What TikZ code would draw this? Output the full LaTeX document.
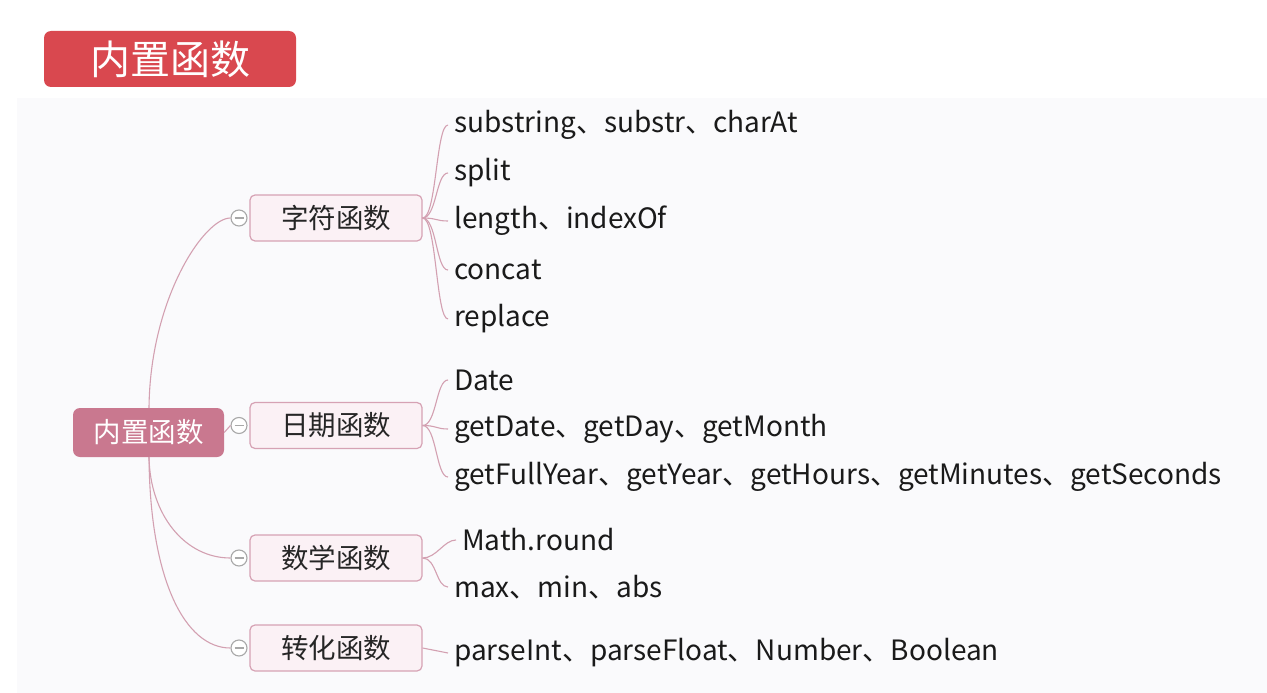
\documentclass[tikz,border=0pt]{standalone}
\usepackage{fontspec}
\setmainfont{Noto Sans CJK SC}
\definecolor{panel}{HTML}{FAFAFC}
\definecolor{titlered}{HTML}{D9484F}
\definecolor{rootfill}{HTML}{C9788F}
\definecolor{branchfill}{HTML}{FBF1F5}
\definecolor{branchdraw}{HTML}{D6A2B4}
\definecolor{linkcol}{HTML}{D3A0B1}
\definecolor{circgray}{HTML}{A8A8A8}
\definecolor{leaftext}{HTML}{1A1A1A}
\tikzset{
  titlebox/.style={fill=titlered, rounded corners=7pt, minimum width=252pt, minimum height=56pt, inner sep=0pt, text=white, font=\fontsize{40}{42}\selectfont},
  rootbox/.style={fill=rootfill, rounded corners=7pt, minimum width=151pt, minimum height=49pt, inner sep=0pt, text=white, font=\fontsize{27.5}{29}\selectfont},
  branchbox/.style={fill=branchfill, draw=branchdraw, line width=1.2pt, rounded corners=5pt, minimum width=172pt, minimum height=46pt, inner sep=0pt, text=black!85, font=\fontsize{27.5}{29}\selectfont},
  leaf/.style={anchor=west, inner sep=0pt, text=leaftext, font=\fontsize{28}{30}\selectfont},
  fold/.style={circle, draw=circgray, fill=white, line width=1.1pt, minimum size=16pt, inner sep=0pt},
  link/.style={draw=linkcol, line width=1.1pt},
}
\begin{document}
\begin{tikzpicture}[x=1pt,y=-1pt]
\useasboundingbox (0,0) rectangle (1267,693);
\fill[white] (0,0) rectangle (1267,693);
\fill[panel] (17,98) rectangle (1267,693);
% title
\node[titlebox] (title) at (170,59) {内置函数};
% root
\node[rootbox] (root) at (148.5,432.5) {内置函数};
% branches
\node[branchbox] (b1) at (336,218) {字符函数};
\node[branchbox] (b2) at (336,425.5) {日期函数};
\node[branchbox] (b3) at (336,558) {数学函数};
\node[branchbox] (b4) at (336,648) {转化函数};
% fold circles
\node[fold] (f1) at (239,218) {};
\node[fold] (f2) at (239,425.5) {};
\node[fold] (f3) at (239,558) {};
\node[fold] (f4) at (239,648) {};
\foreach \f in {f1,f2,f3,f4}{\draw[circgray, line width=1.1pt] ([xshift=-4.5pt]\f.center) -- ([xshift=4.5pt]\f.center);}
% root links
\coordinate (rt) at (149,408);
\coordinate (rb) at (149,457);
\draw[link] (rt) .. controls (150,299) and (204,218) .. (f1.west);
\draw[link] (root.east) -- (f2.west);
\draw[link] (rb) .. controls (150,515) and (185,558) .. (f3.west);
\draw[link] (rb) .. controls (150,580) and (185,648) .. (f4.west);
% leaves
\node[leaf] (l11) at (454,125) {substring、substr、charAt};
\node[leaf] (l12) at (454,173) {split};
\node[leaf] (l13) at (454,221) {length、indexOf};
\node[leaf] (l14) at (454,270) {concat};
\node[leaf] (l15) at (454,319) {replace};
\node[leaf] (l21) at (454,380) {Date};
\node[leaf] (l22) at (454,429) {getDate、getDay、getMonth};
\node[leaf] (l23) at (454,477) {getFullYear、getYear、getHours、getMinutes、getSeconds};
\node[leaf] (l31) at (462,540) {Math.round};
\node[leaf] (l32) at (454,587) {max、min、abs};
\node[leaf] (l41) at (454,653) {parseInt、parseFloat、Number、Boolean};
% leaf links
\foreach \b/\l in {b1/l11,b1/l12,b1/l13,b1/l14,b1/l15,b2/l21,b2/l22,b2/l23,b3/l31,b3/l32}{
  \draw[link] (\b.east) .. controls +(14,0) and +(-12,0) .. ([xshift=-6pt]\l.west);
}
\draw[link] (b4.east) -- ([xshift=-6pt]l41.west);
\end{tikzpicture}
\end{document}
